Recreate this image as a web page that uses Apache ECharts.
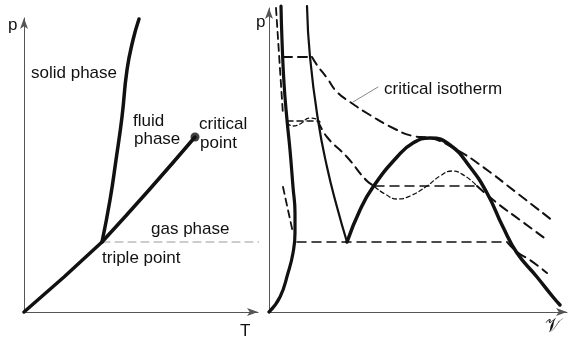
<!DOCTYPE html>
<html>
<head>
<meta charset="utf-8">
<script src="https://cdn.jsdelivr.net/npm/echarts@6/dist/echarts.min.js"></script>
<style>
  html, body { margin: 0; padding: 0; background: #fff; }
  #main { width: 568px; height: 338px; }
</style>
</head>
<body>
<div id="main"></div>
<script>
// p-T diagram (left), values as [T, p]
var sublimation = [[0, 0], [40, 35], [78, 70]]
var melting = [[78, 70], [86, 112], [92, 152], [98, 195], [103, 242], [109, 272], [115, 293]]
var vaporization = [[78, 70], [125, 122], [171, 175]]
var criticalPoint = [[171, 175]]
var tripleLine = [[78, 70], [269, 70]]

// p-v diagram (right), values as [v, p]
var solidBranch = [[0, 0], [11, 15], [19, 39], [24, 59], [26, 79], [26, 99], [24, 125], [21, 162], [18, 192], [15, 229], [13, 272], [12, 306]]
var fluidBranch = [[38, 306], [41, 255], [49, 192], [58, 145], [68, 105], [78, 70]]
var dome = [[78, 70], [91, 102], [104, 125], [128, 155], [144, 169], [161, 174], [181, 167], [201, 145], [218, 119], [234, 85], [248, 59], [268, 35], [284, 15], [291, 7]]

var isoTopSolid = [[7, 304], [14, 197]]
var isoTopFlat = [[14, 255], [43, 255]]
var isoTopCurve = [[43, 255], [48, 247], [58, 234], [68, 220], [81, 210], [101, 197], [124, 184], [144, 176], [161, 174], [188, 162], [214, 145], [248, 119], [284, 91]]

var isoMidFlat1 = [[18, 191], [49, 191]]
var isoMidCurve1 = [[49, 191], [58, 175], [78, 155], [98, 131], [106, 126]]
var isoMidFlat2 = [[106, 126], [208, 126]]
var isoMidCurve2 = [[208, 126], [228, 109], [251, 92], [278, 72]]
var loop1 = [[18, 189], [24, 186], [31, 188], [41, 194], [47, 193], [51, 190]]
var loop2 = [[106, 125], [116, 118], [128, 113], [141, 116], [158, 126], [171, 136], [183, 141], [196, 136], [208, 126]]

var isoLowSolid = [[14, 125], [24, 79]]
var isoLowFlat = [[28, 70], [238, 70]]
var isoLowCurve = [[238, 70], [248, 60], [261, 52], [278, 39]]

var pointer = [[109, 225], [84, 210]]

var chart = echarts.init(document.getElementById('main'))

function line (data, gi, width, dash, smooth, color) {
  return {
    type: 'line',
    xAxisIndex: gi,
    yAxisIndex: gi,
    data: data,
    smooth: smooth,
    symbol: 'none',
    clip: false,
    silent: true,
    lineStyle: { color: color || '#111', width: width, type: dash || 'solid', cap: 'round' }
  }
}

function axis (max) {
  return {
    type: 'value',
    min: 0,
    max: max,
    axisLine: { show: true, onZero: false, symbol: ['none', 'arrow'], symbolSize: [6, 11], lineStyle: { color: '#555', width: 1 } },
    axisTick: { show: false },
    axisLabel: { show: false },
    splitLine: { show: false }
  }
}

// labels: x, y = top of the text box
function txt (x, y, s, size, family, style) {
  return {
    type: 'text',
    left: x,
    top: y,
    style: {
      text: s,
      fill: '#111',
      font: (style || '') + ' ' + (size || 17) + 'px ' + (family || '"Liberation Sans", Arial, sans-serif')
    }
  }
}

var longDash = [9, 6]
var fineDash = [4, 3]

var option = {
  animation: false,
  grid: [
    { left: 24, top: 18, width: 234, height: 294 },
    { left: 269, top: 8, width: 298, height: 304 }
  ],
  xAxis: [Object.assign(axis(234), { gridIndex: 0 }), Object.assign(axis(298), { gridIndex: 1 })],
  yAxis: [Object.assign(axis(294), { gridIndex: 0 }), Object.assign(axis(304), { gridIndex: 1 })],
  series: [
    line(tripleLine, 0, 1, [8, 5], false, '#9a9a9a'),
    line(sublimation, 0, 3.5, null, false),
    line(melting, 0, 3.5, null, true),
    line(vaporization, 0, 3.5, null, true),
    {
      type: 'scatter',
      xAxisIndex: 0,
      yAxisIndex: 0,
      data: criticalPoint,
      symbolSize: 9,
      itemStyle: { color: '#111' },
      silent: true
    },
    line(solidBranch, 1, 3.2, null, true),
    line(fluidBranch, 1, 2.2, null, true),
    line(dome, 1, 3.5, null, true),
    line(isoTopSolid, 1, 1.8, [7, 5], false),
    line(isoTopFlat, 1, 2, longDash, false),
    line(isoTopCurve, 1, 2, longDash, true),
    line(isoMidFlat1, 1, 1.5, [6, 4], false),
    line(isoMidCurve1, 1, 2, longDash, true),
    line(isoMidFlat2, 1, 1.5, longDash, false),
    line(isoMidCurve2, 1, 2, longDash, true),
    line(loop1, 1, 1.3, fineDash, true),
    line(loop2, 1, 1.3, fineDash, true),
    line(isoLowSolid, 1, 1.8, [7, 5], false),
    line(isoLowFlat, 1, 1.5, longDash, false),
    line(isoLowCurve, 1, 2, longDash, true),
    line(pointer, 1, 1, null, false, '#888')
  ],
  graphic: [
    txt(8, 17, 'p'),
    txt(31, 65, 'solid phase'),
    txt(133, 113, 'fluid'),
    txt(134, 131, 'phase'),
    txt(199, 116, 'critical'),
    txt(200, 135, 'point'),
    txt(151, 221, 'gas phase'),
    txt(102, 250, 'triple point'),
    txt(240, 323, 'T'),
    txt(256, 14, 'p'),
    txt(384, 81, 'critical isotherm'),
    txt(545, 318, '\uD835\uDCB1', 19, 'serif')
  ]
}

chart.setOption(option)
</script>
</body>
</html>
